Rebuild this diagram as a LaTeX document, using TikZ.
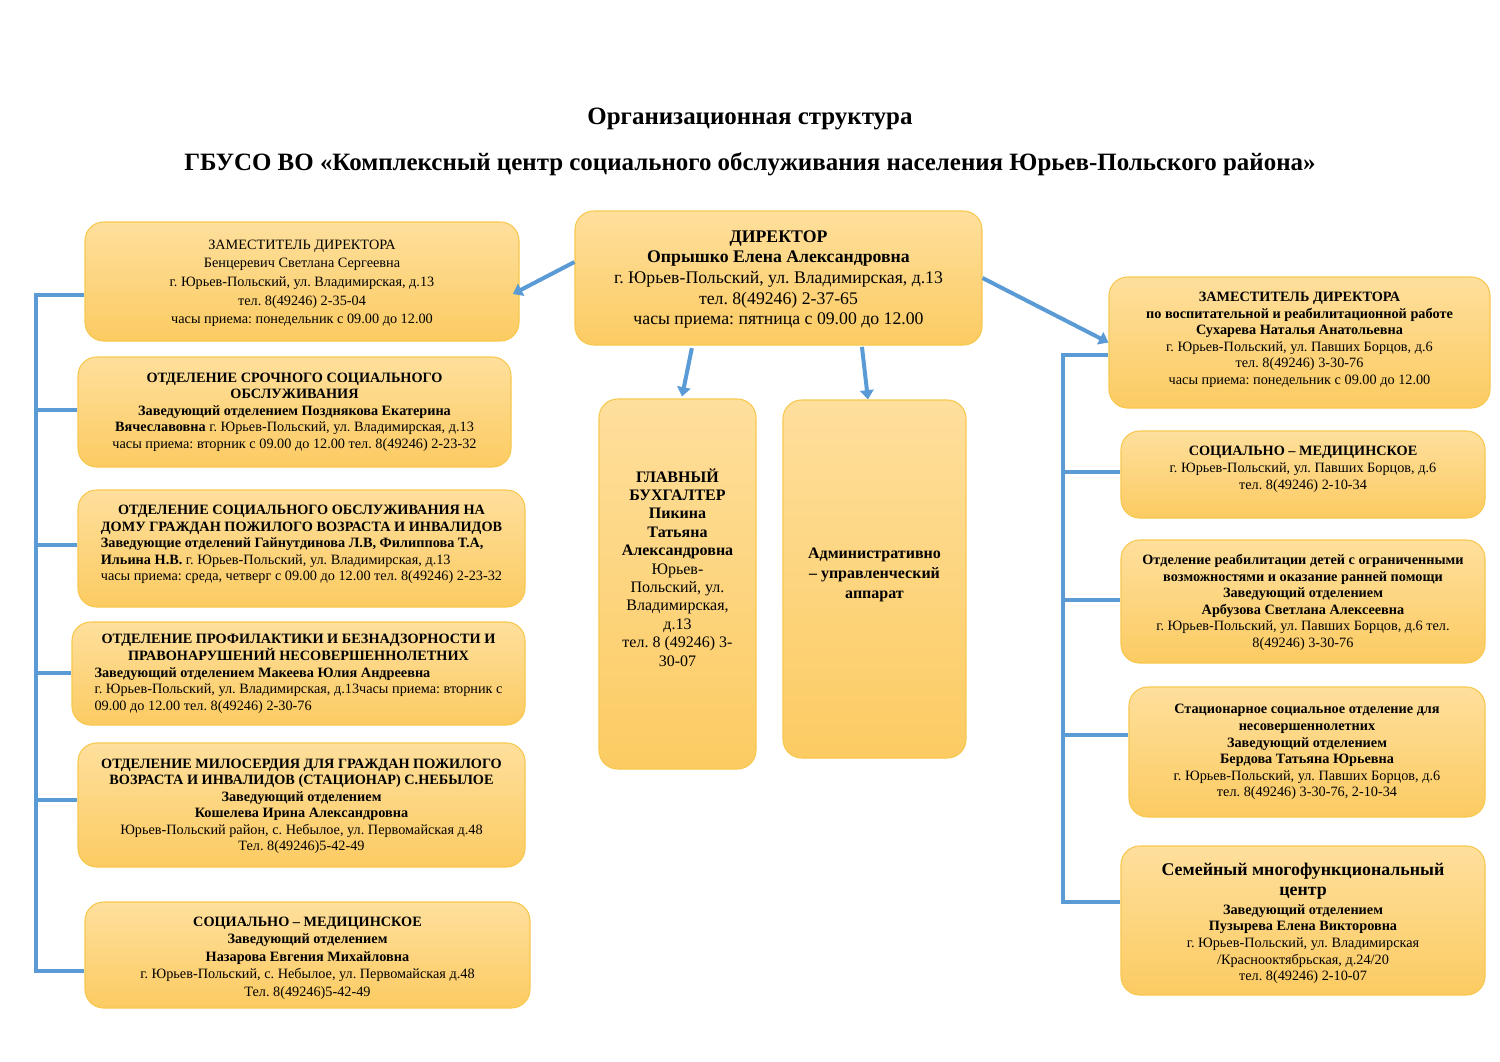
\documentclass[tikz,border=0pt]{standalone}
\usepackage{fontspec}
\setmainfont{Liberation Serif}
\usetikzlibrary{arrows.meta,calc}
\definecolor{bfillA}{HTML}{FEDF9C}
\definecolor{bfillB}{HTML}{FCCB62}
\definecolor{bdraw}{HTML}{F8C84E}
\definecolor{lblue}{HTML}{5B9BD5}
\newcommand{\smtxt}{\fontsize{10.7}{12.4}\selectfont}
\newcommand{\mdtxt}{\fontsize{12}{13.8}\selectfont}
\frenchspacing
\begin{document}
\begin{tikzpicture}[x=0.75pt,y=-0.75pt,
  box/.style={draw=bdraw, line width=0.8pt, rounded corners=14pt, top color=bfillA, bottom color=bfillB, inner sep=0pt, align=center},
  conn/.style={draw=lblue, line width=3pt},
  arr/.style={draw=lblue, line width=3pt, -{Triangle[width=10pt,length=7pt]}},
  ttl/.style={font=\fontsize{18.7}{22}\selectfont\bfseries, inner sep=0pt}]
\useasboundingbox (0,0) rectangle (1500,1061);
\fill[white] (0,0) rectangle (1500,1061);

% titles
\node[ttl] (t1) at (750,119) {Организационная структура};
\node[ttl] (t2) at (750,164) {ГБУСО ВО «Комплексный центр социального обслуживания населения Юрьев-Польского района»};

% director
\node[box, minimum width=305.25pt, minimum height=100.5pt] (dir) at (778.5,278) {\fontsize{13.3}{15.5}\selectfont
\begin{tabular}{@{}c@{}}
\noalign{\vskip 2pt}
\bfseries ДИРЕКТОР\\
\bfseries Опрышко Елена Александровна\\
г. Юрьев-Польский, ул. Владимирская, д.13\\
тел. 8(49246) 2-37-65\\
часы приема: пятница с 09.00 до 12.00
\end{tabular}};

% left column
\node[box, minimum width=325.5pt, minimum height=89.25pt] (z1) at (302,281.5) {\fontsize{10.7}{14}\selectfont
\begin{tabular}{@{}c@{}}
\noalign{\vskip 2pt}
ЗАМЕСТИТЕЛЬ ДИРЕКТОРА\\
Бенцеревич Светлана Сергеевна\\
г. Юрьев-Польский, ул. Владимирская, д.13\\
тел. 8(49246) 2-35-04\\
часы приема: понедельник с 09.00 до 12.00
\end{tabular}};

\node[box, minimum width=324.75pt, minimum height=82.5pt] (l2) at (294.5,412) {\smtxt
\begin{tabular}{@{}c@{}}
\bfseries ОТДЕЛЕНИЕ СРОЧНОГО СОЦИАЛЬНОГО\\
\bfseries ОБСЛУЖИВАНИЯ\\
\bfseries Заведующий отделением Позднякова Екатерина\\
\textbf{Вячеславовна} г. Юрьев-Польский, ул. Владимирская, д.13\\
часы приема: вторник с 09.00 до 12.00 тел. 8(49246) 2-23-32
\end{tabular}};

\node[box, minimum width=335.25pt, minimum height=87.75pt] (l3) at (301.5,548.5) {\smtxt
\begin{tabular}{@{}l@{}}
\multicolumn{1}{@{}c@{}}{\bfseries ОТДЕЛЕНИЕ СОЦИАЛЬНОГО ОБСЛУЖИВАНИЯ НА}\\
\multicolumn{1}{@{}c@{}}{\bfseries ДОМУ ГРАЖДАН ПОЖИЛОГО ВОЗРАСТА И ИНВАЛИДОВ}\\
\bfseries Заведующие отделений Гайнутдинова Л.В, Филиппова Т.А,\\
\textbf{Ильина Н.В.} г. Юрьев-Польский, ул. Владимирская, д.13\\
часы приема: среда, четверг с 09.00 до 12.00 тел. 8(49246) 2-23-32\\[6pt]
\end{tabular}};

\node[box, minimum width=339.75pt, minimum height=77.25pt] (l4) at (298.5,673.5) {\smtxt
\begin{tabular}{@{}l@{}}
\multicolumn{1}{@{}c@{}}{\bfseries ОТДЕЛЕНИЕ ПРОФИЛАКТИКИ И БЕЗНАДЗОРНОСТИ И}\\
\multicolumn{1}{@{}c@{}}{\bfseries ПРАВОНАРУШЕНИЙ НЕСОВЕРШЕННОЛЕТНИХ}\\
\bfseries Заведующий отделением Макеева Юлия Андреевна\\
г. Юрьев-Польский, ул. Владимирская, д.13часы приема: вторник с\\
09.00 до 12.00 тел. 8(49246) 2-30-76
\end{tabular}};

\node[box, minimum width=335.25pt, minimum height=93pt] (l5) at (301.5,805) {\smtxt
\begin{tabular}{@{}c@{}}
\noalign{\vskip 2pt}
\bfseries ОТДЕЛЕНИЕ МИЛОСЕРДИЯ ДЛЯ ГРАЖДАН ПОЖИЛОГО\\
\bfseries ВОЗРАСТА И ИНВАЛИДОВ (СТАЦИОНАР) С.НЕБЫЛОЕ\\
\bfseries Заведующий отделением\\
\bfseries Кошелева Ирина Александровна\\
Юрьев-Польский район, с. Небылое, ул. Первомайская д.48\\
Тел. 8(49246)5-42-49
\end{tabular}};

\node[box, minimum width=333.75pt, minimum height=79.5pt] (l6) at (307.5,955) {\fontsize{10.7}{13.1}\selectfont
\begin{tabular}{@{}c@{}}
\noalign{\vskip 4pt}
\bfseries СОЦИАЛЬНО – МЕДИЦИНСКОЕ\\
\bfseries Заведующий отделением\\
\bfseries Назарова Евгения Михайловна\\
г. Юрьев-Польский, с. Небылое, ул. Первомайская д.48\\
Тел. 8(49246)5-42-49
\end{tabular}};

% center column
\node[box, minimum width=117.75pt, minimum height=277.5pt] (gb) at (677.5,584) {\mdtxt
\begin{tabular}{@{}c@{}}
\bfseries ГЛАВНЫЙ\\
\bfseries БУХГАЛТЕР\\
\bfseries Пикина\\
\bfseries Татьяна\\
\bfseries Александровна\\
Юрьев-\\
Польский, ул.\\
Владимирская,\\
д.13\\
тел. 8 (49246) 3-\\
30-07\\[21pt]
\end{tabular}};

\node[box, minimum width=137.25pt, minimum height=268.5pt] (adm) at (874.5,579) {\fontsize{12}{15}\selectfont
\begin{tabular}{@{}c@{}}
\bfseries Административно\\
\bfseries – управленческий\\
\bfseries аппарат\\[7pt]
\end{tabular}};

% right column
\node[box, minimum width=285.75pt, minimum height=98.25pt] (r1) at (1299.5,342.5) {\smtxt
\begin{tabular}{@{}c@{}}
\bfseries ЗАМЕСТИТЕЛЬ ДИРЕКТОРА\\
\bfseries по воспитательной и реабилитационной работе\\
\bfseries Сухарева Наталья Анатольевна\\
г. Юрьев-Польский, ул. Павших Борцов, д.6\\
тел. 8(49246) 3-30-76\\
часы приема: понедельник с 09.00 до 12.00\\[4pt]
\end{tabular}};

\node[box, minimum width=273pt, minimum height=65.25pt] (r2) at (1303,474.5) {\fontsize{10.7}{12.75}\selectfont
\begin{tabular}{@{}c@{}}
\bfseries СОЦИАЛЬНО – МЕДИЦИНСКОЕ\\
г. Юрьев-Польский, ул. Павших Борцов, д.6\\
тел. 8(49246) 2-10-34\\[8pt]
\end{tabular}};

\node[box, minimum width=273pt, minimum height=92.25pt] (r3) at (1303,601.5) {\smtxt
\begin{tabular}{@{}c@{}}
\noalign{\vskip 2pt}
\bfseries Отделение реабилитации детей с ограниченными\\
\bfseries возможностями и оказание ранней помощи\\
\bfseries Заведующий отделением\\
\bfseries Арбузова Светлана Алексеевна\\
г. Юрьев-Польский, ул. Павших Борцов, д.6 тел.\\
8(49246) 3-30-76
\end{tabular}};

\node[box, minimum width=267pt, minimum height=97.5pt] (r4) at (1307,752) {\smtxt
\begin{tabular}{@{}c@{}}
\bfseries Стационарное социальное отделение для\\
\bfseries несовершеннолетних\\
\bfseries Заведующий отделением\\
\bfseries Бердова Татьяна Юрьевна\\
г. Юрьев-Польский, ул. Павших Борцов, д.6\\
тел. 8(49246) 3-30-76, 2-10-34
\end{tabular}};

\node[box, minimum width=273pt, minimum height=111.75pt] (r5) at (1303,920.5) {\smtxt
\begin{tabular}{@{}c@{}}
\noalign{\vskip 6pt}
{\fontsize{13.4}{15}\selectfont\bfseries Семейный многофункциональный}\\[2.6pt]
{\fontsize{13.4}{15}\selectfont\bfseries центр}\\[1.5pt]
\bfseries Заведующий отделением\\
\bfseries Пузырева Елена Викторовна\\
г. Юрьев-Польский, ул. Владимирская\\
/Краснооктябрьская, д.24/20\\
тел. 8(49246) 2-10-07
\end{tabular}};

% arrows from director
\draw[arr] ([yshift=12pt]dir.west) -- ([xshift=-5pt,yshift=-9.4pt]z1.east);
\draw[arr] (dir.east) -- (r1.west);
\draw[arr] ([xshift=-65pt,yshift=-2pt]dir.south) -- ([xshift=3.4pt,yshift=1.5pt]gb.north);
\draw[arr] ([xshift=62.6pt,yshift=-1pt]dir.south) -- ([xshift=-4.9pt,yshift=0pt]adm.north);

% left bus
\coordinate (lb1) at (36,295);
\coordinate (lb2) at (36,410);
\coordinate (lb3) at (36,545);
\coordinate (lb4) at (36,673);
\coordinate (lb5) at (36,800);
\coordinate (lb6) at (36,971);
\draw[conn] (lb1 -| z1.west) -- (lb1) -- (lb6) -- (lb6 -| l6.west);
\draw[conn] (lb2) -- (lb2 -| l2.west);
\draw[conn] (lb3) -- (lb3 -| l3.west);
\draw[conn] (lb4) -- (lb4 -| l4.west);
\draw[conn] (lb5) -- (lb5 -| l5.west);

% right bus
\coordinate (rb1) at (1063,355);
\coordinate (rb2) at (1063,472);
\coordinate (rb3) at (1063,600);
\coordinate (rb4) at (1063,735);
\coordinate (rb5) at (1063,902);
\draw[conn] (rb1 -| r1.west) -- (rb1) -- (rb5) -- (rb5 -| r5.west);
\draw[conn] (rb2) -- (rb2 -| r2.west);
\draw[conn] (rb3) -- (rb3 -| r3.west);
\draw[conn] (rb4) -- (rb4 -| r4.west);
\end{tikzpicture}
\end{document}
